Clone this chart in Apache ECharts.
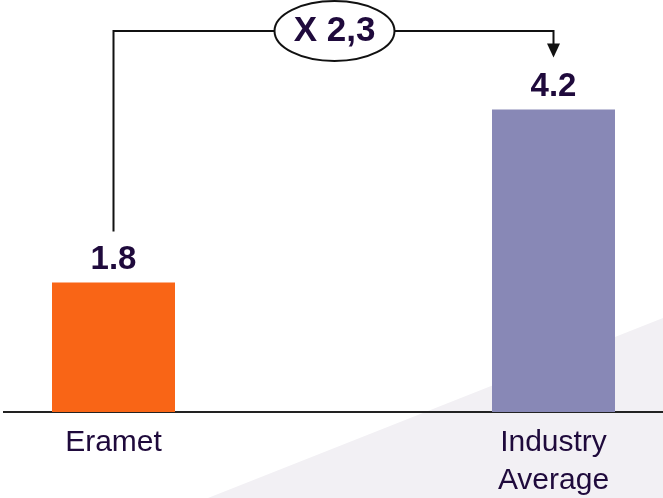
<!DOCTYPE html>
<html>
<head>
<meta charset="utf-8">
<script src="https://cdn.jsdelivr.net/npm/echarts@6/dist/echarts.min.js"></script>
<style>
html,body{margin:0;padding:0;background:#fff;}
#chart{width:663px;height:498px;}
</style>
</head>
<body>
<div id="chart"></div>
<script>
var categories = ['Eramet', 'Industry\nAverage'];
var values = [1.8, 4.2];
var barColors = ['#F96516', '#8888B6'];
var valueLabels = ['1.8', '4.2'];

var textColor = '#1F0A3C';
var chart = echarts.init(document.getElementById('chart'), null, {renderer: 'canvas'});

var option = {
  animation: false,
  backgroundColor: '#ffffff',
  grid: {left: -106.5, right: -110.5, top: 52, bottom: 86, containLabel: false, outerBoundsMode: 'none'},
  xAxis: {
    type: 'category',
    data: categories,
    boundaryGap: true,
    axisLine: {show: true, lineStyle: {color: '#222222', width: 2}},
    axisTick: {show: false},
    axisLabel: {
      margin: 12,
      fontFamily: 'Liberation Sans, Arial, sans-serif',
      fontSize: 30,
      lineHeight: 38,
      color: textColor
    }
  },
  yAxis: {
    type: 'value', min: 0, max: 5,
    show: false,
    splitLine: {show: false}
  },
  series: [{
    type: 'bar',
    barWidth: 123,
    data: values.map(function (v, i) {
      return {value: v, itemStyle: {color: barColors[i]}};
    }),
    label: {
      show: true,
      position: 'top',
      distance: 6,
      formatter: function (p) { return valueLabels[p.dataIndex]; },
      fontFamily: 'Liberation Sans, Arial, sans-serif',
      fontWeight: 'bold',
      fontSize: 33,
      color: textColor
    }
  }]
};
chart.setOption(option);

function drawAnnotation() {
  var p0 = chart.convertToPixel({seriesIndex: 0}, [0, values[0]]);
  var p1 = chart.convertToPixel({seriesIndex: 0}, [1, values[1]]);
  var lineY = 31;
  var leftBottom = p0[1] - 51;
  var arrowTip = p1[1] - 52;
  var midX = (p0[0] + p1[0]) / 2 + 1;
  var ratio = (values[1] / values[0]).toFixed(1).replace('.', ',');
  chart.setOption({
    graphic: [
      {
        type: 'polygon', z: -10, silent: true,
        shape: {points: [[208, 498], [663, 318], [663, 498]]},
        style: {fill: '#F2F0F4'}
      },
      {
        type: 'rect', z: 60, silent: true,
        shape: {x: 0, y: 405, width: 3, height: 15},
        style: {fill: '#ffffff'}
      },
      {
        type: 'polyline', z: 50,
        shape: {points: [[p0[0], leftBottom], [p0[0], lineY], [p1[0], lineY], [p1[0], arrowTip - 12]]},
        style: {stroke: '#111111', lineWidth: 2, fill: null}
      },
      {
        type: 'polygon', z: 51,
        shape: {points: [[p1[0] - 6.5, arrowTip - 14], [p1[0] + 6.5, arrowTip - 14], [p1[0], arrowTip]]},
        style: {fill: '#111111'}
      },
      {
        type: 'ellipse', z: 52,
        shape: {cx: midX, cy: lineY, rx: 60, ry: 30},
        style: {fill: '#ffffff', stroke: '#111111', lineWidth: 2}
      },
      {
        type: 'text', z: 53,
        x: midX, y: lineY,
        style: {
          text: 'X ' + ratio,
          align: 'center', verticalAlign: 'middle',
          fontFamily: 'Liberation Sans, Arial, sans-serif',
          fontWeight: 'bold', fontSize: 35,
          fill: textColor
        }
      }
    ]
  });
}
drawAnnotation();
</script>
</body>
</html>
